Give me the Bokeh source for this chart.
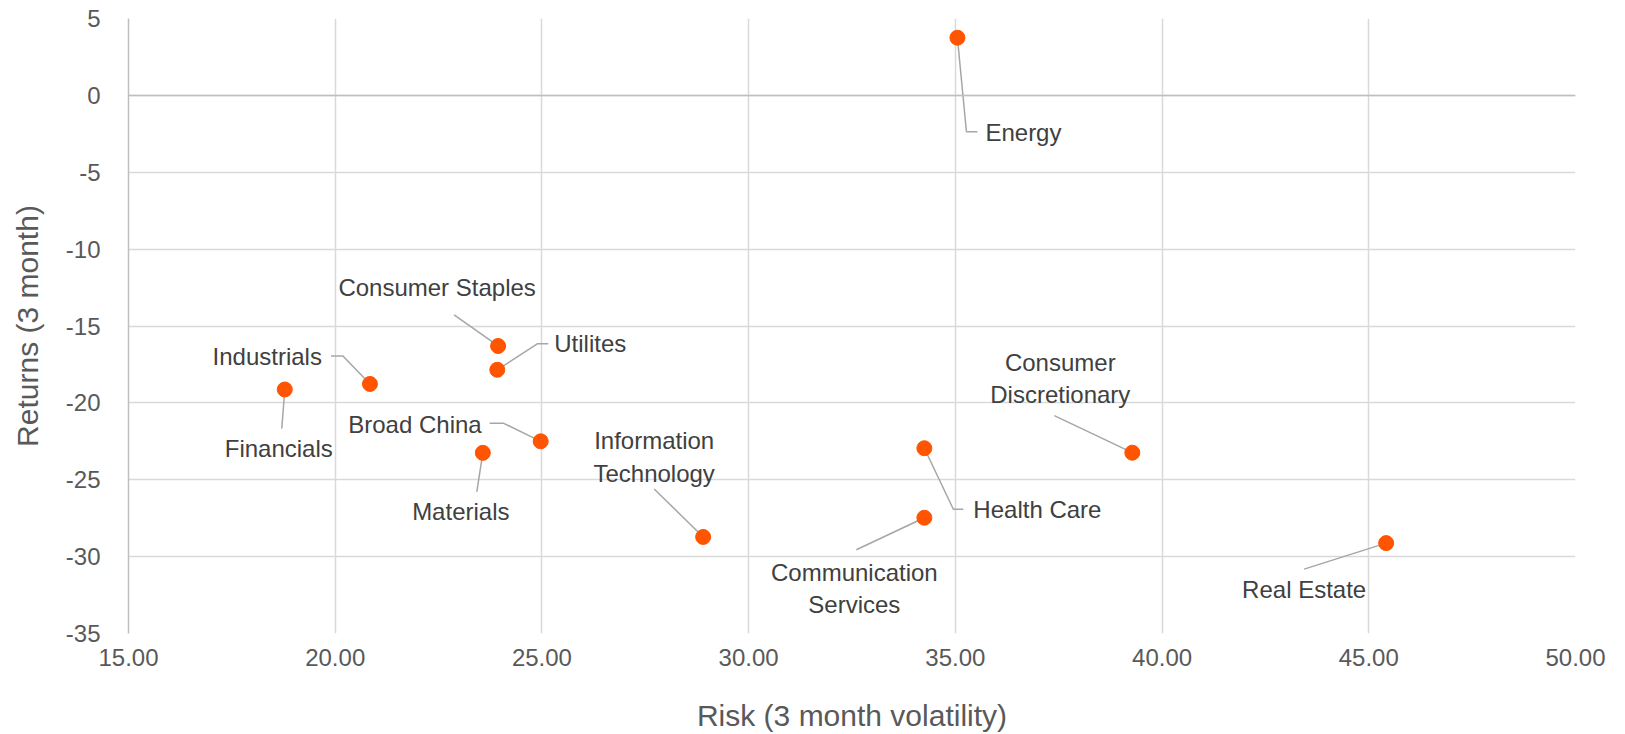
from bokeh.plotting import figure
from bokeh.models import Range1d, FixedTicker, NumeralTickFormatter, ColumnDataSource, Span
from bokeh.core.properties import value
from bokeh.embed import file_html
from bokeh.resources import INLINE

# ---------------- data ----------------
sectors = ["Energy", "Consumer Staples", "Utilites", "Industrials", "Financials",
           "Broad China", "Materials", "Information\nTechnology", "Health Care",
           "Communication\nServices", "Consumer\nDiscretionary", "Real Estate"]
risk = [35.05, 23.94, 23.92, 20.84, 18.78, 24.97, 23.57, 28.90, 34.25, 34.25, 39.28, 45.42]
returns = [3.75, -16.30, -17.85, -18.77, -19.13, -22.50, -23.25, -28.72, -22.95, -27.47, -23.24, -29.12]
x_ticks = [15, 20, 25, 30, 35, 40, 45, 50]
y_ticks = [-35, -30, -25, -20, -15, -10, -5, 0, 5]

# ---------------- layout (screen px offsets from each point; dx right, dy down) ----------------
label_off = [(28, 95), (-61, -58), (57, -26), (-48, -27), (-6, 59), (-59, -17),
             (-22, 59), (-49, -80), (49, 61), (-70, 71), (-72, -74), (-82, 46)]
label_align = ["left", "center", "left", "right", "center", "right",
               "center", "center", "left", "center", "center", "center"]
leader_off = [
    [(0, 0), (9, 94), (20, 94)],
    [(-44, -31), (0, 0)],
    [(0, 0), (40, -26), (51, -26)],
    [(-39, -28), (-27, -28), (0, 0)],
    [(0, 0), (-3, 39)],
    [(-51, -18), (-37, -18), (0, 0)],
    [(0, 0), (-6, 39)],
    [(-49, -48), (0, 0)],
    [(0, 0), (29, 61), (39, 61)],
    [(-68, 32), (0, 0)],
    [(-78, -37), (0, 0)],
    [(-82, 26), (0, 0)],
]

FW, FH = 1447, 615
X0, X1 = x_ticks[0], x_ticks[-1]
Y0, Y1 = y_ticks[0], y_ticks[-1]
xpu = FW / (X1 - X0)
ypu = FH / (Y1 - Y0)

FONT = "Liberation Sans"

p = figure(frame_width=FW, frame_height=FH,
           x_range=Range1d(X0, X1), y_range=Range1d(Y0, Y1),
           output_backend="svg", toolbar_location=None,
           min_border_left=128, min_border_right=35,
           min_border_top=18, min_border_bottom=92)
p.outline_line_color = None
p.background_fill_color = "white"

# grid
p.xgrid.ticker = FixedTicker(ticks=x_ticks)
p.ygrid.ticker = FixedTicker(ticks=y_ticks)
for g in (p.xgrid, p.ygrid):
    g.grid_line_color = "#d9d9d9"
    g.grid_line_width = 1.5

# axes
p.xaxis.ticker = FixedTicker(ticks=x_ticks)
p.yaxis.ticker = FixedTicker(ticks=y_ticks)
p.xaxis.formatter = NumeralTickFormatter(format="0.00")
p.yaxis.formatter = NumeralTickFormatter(format="0")
for ax in (p.xaxis[0], p.yaxis[0]):
    ax.major_tick_line_color = None
    ax.minor_tick_line_color = None
    ax.major_label_text_font = FONT
    ax.major_label_text_font_size = "24px"
    ax.major_label_text_color = "#595959"
    ax.axis_label_text_font = FONT
    ax.axis_label_text_font_size = "30px"
    ax.axis_label_text_font_style = "normal"
    ax.axis_label_text_color = "#595959"
p.xaxis.axis_line_color = None
p.yaxis.axis_line_color = "#bfbfbf"
p.yaxis.axis_line_width = 1.5
p.xaxis.axis_label = "Risk (3 month volatility)"
p.yaxis.axis_label = "Returns (3 month)"
p.xaxis.major_label_standoff = 9
p.yaxis.major_label_standoff = 22
p.xaxis.axis_label_standoff = 30
p.yaxis.axis_label_standoff = 19

# zero line (horizontal axis crossing)
p.add_layout(Span(location=0, dimension="width", line_color="#bfbfbf", line_width=1.5))

# leader lines
xs, ys = [], []
for x, y, pts in zip(risk, returns, leader_off):
    xs.append([x + dx / xpu for dx, dy in pts])
    ys.append([y - dy / ypu for dx, dy in pts])
p.multi_line(xs, ys, line_color="#a6a6a6", line_width=1.5)

# points
src = ColumnDataSource(dict(x=risk, y=returns))
p.scatter("x", "y", source=src, size=15, fill_color="#ff5500", line_color="#ff5500")

# labels
tsrc = ColumnDataSource(dict(
    x=[x + o[0] / xpu for x, o in zip(risk, label_off)],
    y=[y - o[1] / ypu for y, o in zip(returns, label_off)],
    text=sectors, align=label_align))
p.text("x", "y", text="text", source=tsrc, text_align="align",
       text_baseline="middle", text_font=value(FONT), text_font_size="24px",
       text_color="#404040", text_line_height=1.2)

open("out.html", "w").write(file_html(p, INLINE))
